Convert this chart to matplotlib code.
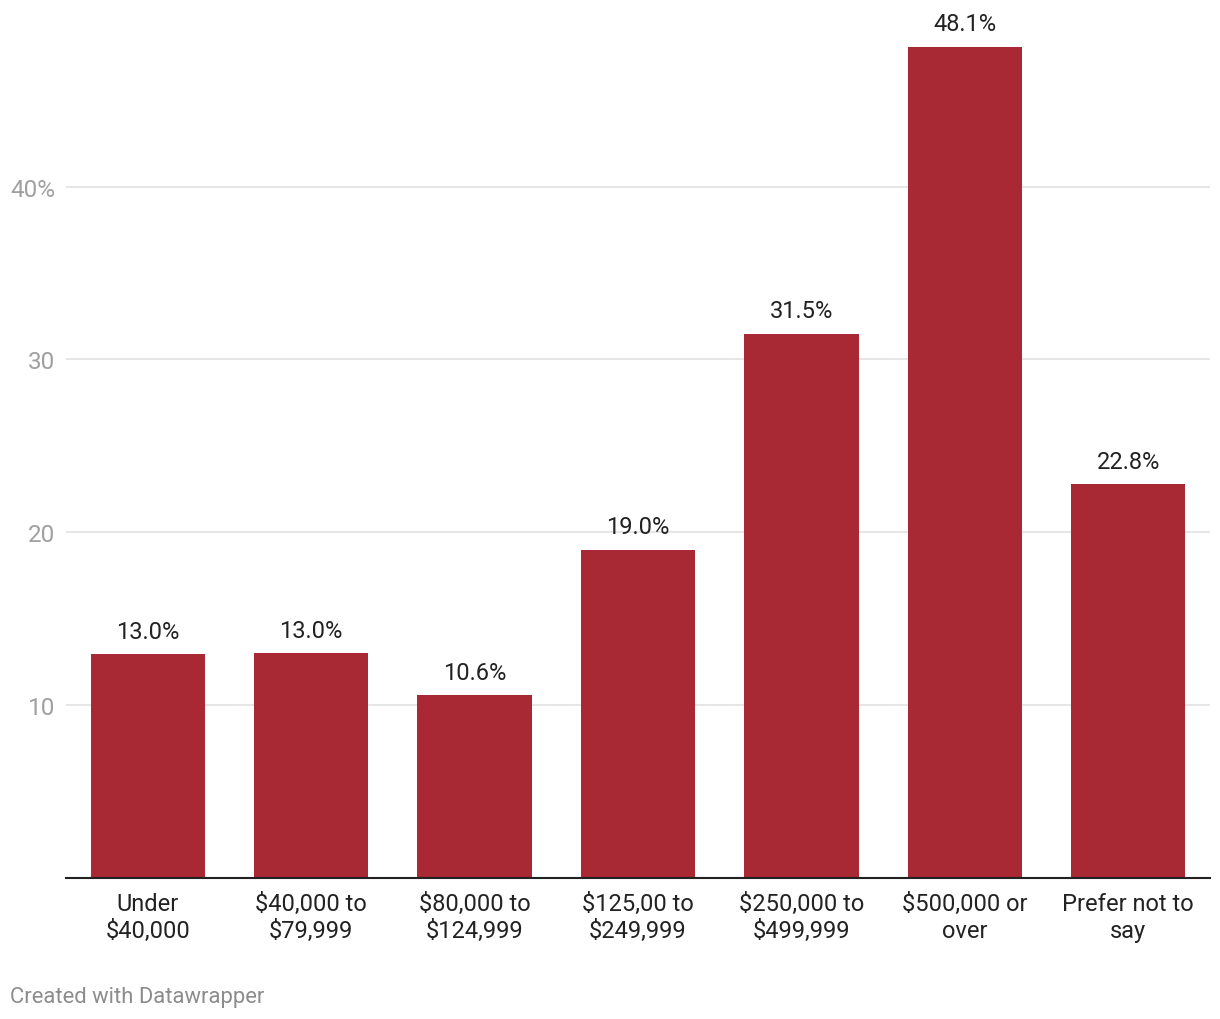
import matplotlib.pyplot as plt

plt.rcParams['font.family'] = ['Roboto', 'DejaVu Sans']

categories = ["Under\n$40,000", "$40,000 to\n$79,999", "$80,000 to\n$124,999",
              "$125,00 to\n$249,999", "$250,000 to\n$499,999", "$500,000 or\nover",
              "Prefer not to\nsay"]
values = [12.96, 13.02, 10.6, 19.0, 31.5, 48.1, 22.8]
yticks = [10, 20, 30, 40]
ytick_labels = ["10", "20", "30", "40%"]

bar_color = "#a82833"

fig = plt.figure(figsize=(12.2, 10.2), dpi=100)
ax = fig.add_axes([66 / 1220, 1 - 879 / 1020, 1144 / 1220, 847 / 1020])

x = range(len(categories))
bars = ax.bar(x, values, width=0.70, color=bar_color, zorder=2)

for xi, v in zip(x, values):
    ax.annotate(f"{v:.1f}%", (xi, v), xytext=(0, 8), textcoords="offset points",
                ha="center", va="bottom", fontsize=17, color="#222222")

ax.set_xlim(-0.5, len(categories) - 0.5)
ax.set_ylim(0, 49)
ax.set_yticks(yticks)
ax.set_yticklabels(ytick_labels)
ax.set_xticks(list(x))
ax.set_xticklabels(categories, fontsize=17, color="#222222", linespacing=1.25)

ax.grid(axis="y", color="#e2e2e2", linewidth=1.2, zorder=0)
ax.tick_params(axis="y", length=0, labelsize=17.5, labelcolor="#a0a0a0", pad=7.5)
ax.tick_params(axis="x", length=0, pad=10)

for side in ["top", "right", "left"]:
    ax.spines[side].set_visible(False)
ax.spines["bottom"].set_color("#222222")
ax.spines["bottom"].set_linewidth(1.5)
ax.spines["bottom"].set_zorder(3)

fig.text(10 / 1220, 1 - 998 / 1020, "Created with Datawrapper", fontsize=15.8,
         color="#8c8c8c", ha="left", va="center")

fig.savefig("out.png", dpi=100)
